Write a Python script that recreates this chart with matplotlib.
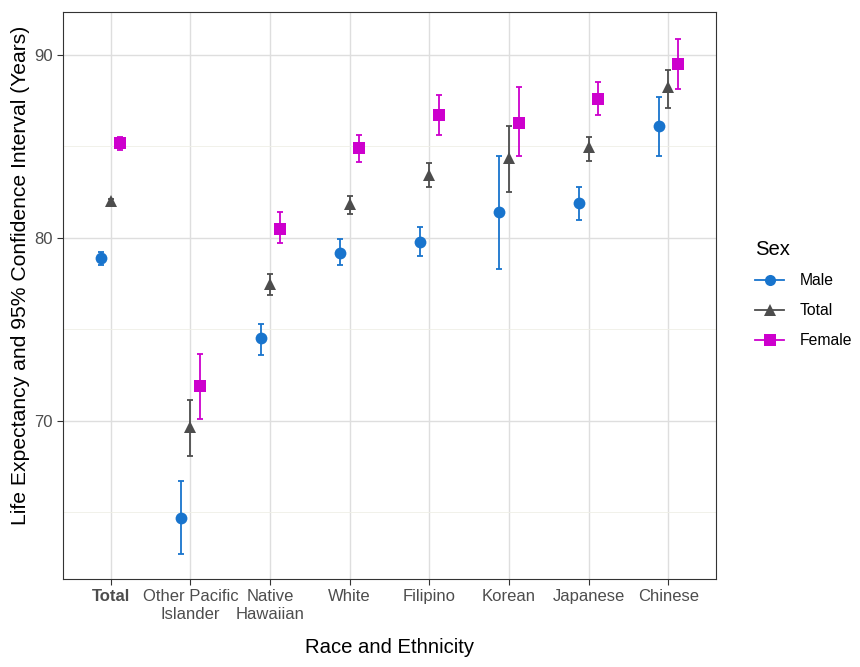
import numpy as np
import matplotlib.pyplot as plt
from matplotlib.lines import Line2D

plt.rcParams['font.family'] = ['Liberation Sans', 'DejaVu Sans']

# categories on the x axis
groups = ["Total", "Other Pacific\nIslander", "Native\nHawaiian", "White",
          "Filipino", "Korean", "Japanese", "Chinese"]

# life expectancy estimates and 95% CI bounds
male_le = [78.9, 64.7, 74.5, 79.2, 79.8, 81.4, 81.9, 86.1]
male_lo = [78.5, 62.7, 73.6, 78.5, 79.0, 78.3, 81.0, 84.5]
male_hi = [79.25, 66.7, 75.3, 79.95, 80.6, 84.5, 82.8, 87.7]

total_le = [82.0, 69.65, 77.5, 81.85, 83.45, 84.35, 84.95, 88.25]
total_lo = [81.85, 68.05, 76.85, 81.3, 82.8, 82.5, 84.2, 87.1]
total_hi = [82.1, 71.15, 78.05, 82.3, 84.1, 86.1, 85.5, 89.2]

female_le = [85.2, 71.9, 80.5, 84.9, 86.7, 86.3, 87.6, 89.5]
female_lo = [84.8, 70.1, 79.7, 84.15, 85.6, 84.45, 86.7, 88.15]
female_hi = [85.5, 73.65, 81.4, 85.6, 87.8, 88.25, 88.5, 90.9]

sexes = ["Male", "Total", "Female"]
colors = {"Male": "#1874CD", "Total": "#4D4D4D", "Female": "#CD00CD"}
markers = {"Male": "o", "Total": "^", "Female": "s"}
sizes = {"Male": 8.5, "Total": 9, "Female": 8}
offsets = {"Male": -0.12, "Total": 0.0, "Female": 0.12}
series = {
    "Male": (male_le, male_lo, male_hi),
    "Total": (total_le, total_lo, total_hi),
    "Female": (female_le, female_lo, female_hi),
}

fig = plt.figure(figsize=(8.6, 6.67), dpi=100)
ax = fig.add_axes([0.0733, 0.132, 0.7593, 0.85])

x = np.arange(len(groups))
for s in sexes:
    le, lo, hi = (np.array(v) for v in series[s])
    err = np.vstack([le - lo, hi - le])
    ax.errorbar(x + offsets[s], le, yerr=err, fmt="none", ecolor=colors[s],
                elinewidth=1.3, capsize=2.5, capthick=1.3, zorder=3)
    ax.plot(x + offsets[s], le, linestyle="none", marker=markers[s],
            color=colors[s], markersize=sizes[s], markeredgewidth=0, zorder=4)

ax.set_xlim(-0.6, len(groups) - 0.4)
ax.set_ylim(61.35, 92.35)
ax.set_yticks([70, 80, 90])
ax.set_yticks([65, 75, 85], minor=True)
ax.set_xticks(x)
ax.set_xticklabels(groups)
ax.get_xticklabels()[0].set_fontweight("bold")

ax.grid(True, which="major", color="#DEDEDE", linewidth=1.0, zorder=0)
ax.grid(True, which="minor", axis="y", color="#EFEFE6", linewidth=0.6, zorder=0)
ax.set_axisbelow(True)
for sp in ax.spines.values():
    sp.set_color("#333333")
    sp.set_linewidth(0.8)
ax.tick_params(axis="both", which="major", colors="#333333", labelcolor="#4D4D4D",
               labelsize=12, length=4, width=0.8)
ax.tick_params(axis="y", which="minor", length=0)

ax.set_xlabel("Race and Ethnicity", fontsize=14.6, labelpad=12)
ax.set_ylabel("Life Expectancy and 95% Confidence Interval (Years)", fontsize=15.2)
ax.yaxis.set_label_coords(-0.05, 0.535)

handles = [Line2D([0], [0], color=colors[s], marker=markers[s], markersize=8,
                  markeredgewidth=0, linewidth=1.3) for s in sexes]
fig.legend(handles, sexes, title="Sex", loc="upper left", bbox_to_anchor=(0.862, 0.662),
           frameon=False, fontsize=11.3, title_fontsize=14.6, handlelength=1.8,
           handletextpad=1.0, labelspacing=0.95, alignment="left")

fig.savefig("out.png", dpi=100)
